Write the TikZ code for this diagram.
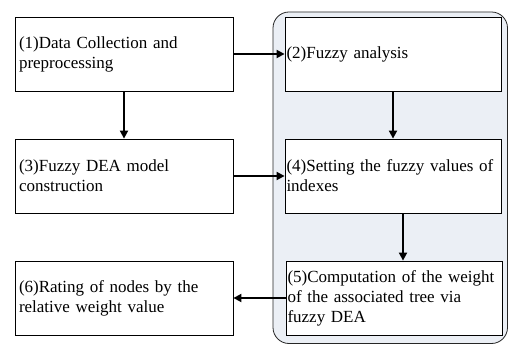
\documentclass[tikz,border=0pt]{standalone}
\usepackage{fontspec}
\setmainfont{Liberation Serif}
\usetikzlibrary{arrows.meta}
\definecolor{groupfill}{RGB}{235,239,245}
\tikzset{
  stepbox/.style={draw=black, line width=0.8pt, fill=white, align=left,
    minimum height=74pt, inner ysep=0pt,
    font=\fontsize{17}{20}\selectfont, anchor=center},
  leftbox/.style={stepbox, minimum width=218pt, text width=210pt, inner xsep=4pt},
  rightbox/.style={stepbox, minimum width=216pt, text width=213pt, inner xsep=1.5pt},
  arr/.style={line width=1.8pt, -{Triangle[length=8pt,width=8pt]}},
}
\begin{document}
\begin{tikzpicture}[x=1pt,y=-1pt]
\useasboundingbox (0,0) rectangle (508,344);
\fill[white] (0,0) rectangle (508,344);
\path[draw=black!85, line width=0.8pt, fill=groupfill, rounded corners=16pt]
  (273,12) rectangle (507.5,343.5);
\node[leftbox] (b1) at (124,54) {(1)Data Collection and\\preprocessing};
\node[leftbox] (b3) at (124,176) {(3)Fuzzy DEA model\\construction};
\node[leftbox] (b6) at (124,298) {(6)Rating of nodes by the\\relative weight value};
\node[rightbox] (b2) at (393,54) {(2)Fuzzy analysis};
\node[rightbox] (b4) at (393,176) {(4)Setting the fuzzy values of\\indexes};
\node[rightbox, minimum width=215pt] (b5) at (394,298) {(5)Computation of the weight\\of the associated tree via\\fuzzy DEA};
\draw[arr] (b1.east) -- (b2.west);
\draw[arr] (b3.east) -- (b4.west);
\draw[arr] (b5.west) -- (b6.east);
\draw[arr] (b1.south) -- (b3.north);
\draw[arr] (b2.south) -- (b4.north);
\draw[arr] ([xshift=10pt]b4.south) -- ([xshift=10pt]b4.south |- b5.north);
\end{tikzpicture}
\end{document}
